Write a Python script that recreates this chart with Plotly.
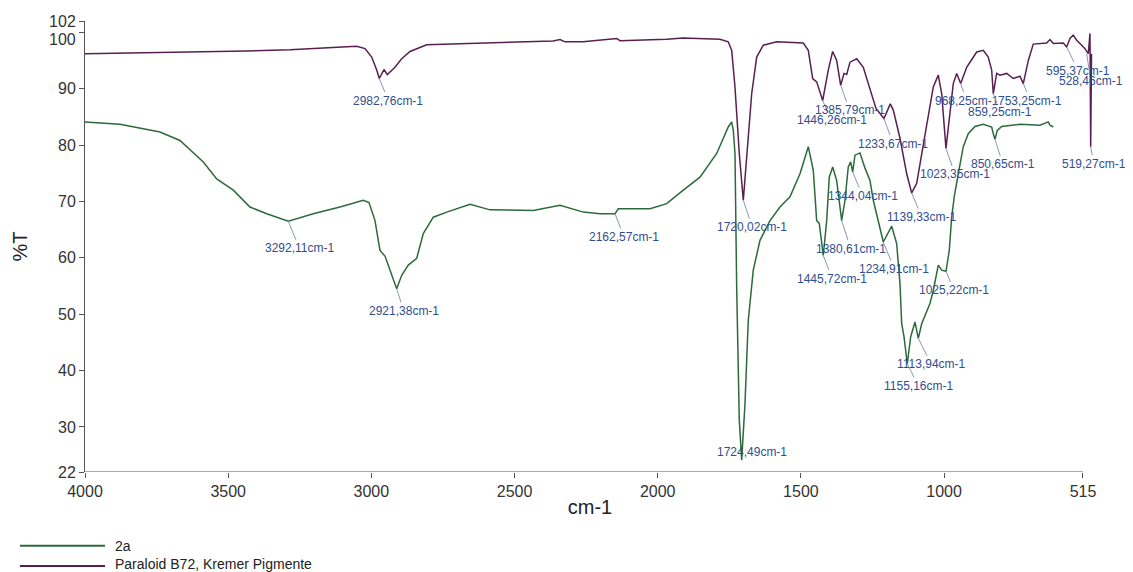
import plotly.graph_objects as go

# ---------------- data ----------------
purple_name = "Paraloid B72, Kremer Pigmente"
purple_wn = [4000, 3877.8, 3738.1, 3598.4, 3435.3, 3284.1, 3144.5, 3051.2, 3022.2, 2998.8,
             2981.4, 2972.3, 2962.9, 2955.9, 2944.4, 2917.5, 2894.1, 2865.1, 2806.8, 2645.1,
             2365.7, 2341.3, 2323.8, 2261.0, 2143.3, 2131.8, 1968.7, 1911.8, 1782.6, 1753.6,
             1741.7, 1730.2, 1715.2, 1701.2, 1687.3, 1671.9, 1654.4, 1631.4, 1584.6, 1491.7,
             1474.2, 1458.9, 1444.9, 1424.0, 1404.4, 1389.1, 1375.1, 1361.1, 1349.6, 1340.1,
             1328.6, 1305.2, 1282.2, 1258.8, 1237.8, 1209.9, 1187.9, 1177.4, 1154.0, 1130.6,
             1113.2, 1095.7, 1078.2, 1055.2, 1037.7, 1020.3, 1008.4, 993.4, 979.4, 967.9,
             956.0, 942.1, 921.1, 886.2, 863.1, 845.7, 833.8, 828.2, 816.4, 804.8,
             781.4, 758.4, 735.0, 723.4, 705.8, 688.5, 641.8, 630.2, 618.7, 583.8,
             571.9, 560.4, 548.9, 536.9, 525.5, 508.0, 496.5, 490.5, 488.1, 485.2]
purple_t = [96.2, 96.3, 96.4, 96.45, 96.7, 96.9, 97.3, 97.5, 97.1, 95.6,
            93.3, 91.8, 92.7, 93.4, 92.5, 93.8, 95.3, 96.6, 97.8, 98.0,
            98.45, 98.7, 98.3, 98.3, 98.9, 98.5, 98.75, 99.0, 98.75, 98.3,
            96.8, 90.3, 78.5, 70.2, 78.5, 89.1, 95.6, 97.7, 98.3, 98.1,
            96.8, 91.8, 91.2, 87.9, 93.3, 96.6, 95.0, 90.6, 92.7, 92.5,
            94.7, 95.3, 93.8, 89.7, 86.5, 84.7, 87.3, 86.2, 81.2, 74.9,
            71.5, 73.2, 78.5, 85.6, 90.3, 92.4, 89.1, 79.4, 85.6, 90.9,
            92.7, 90.9, 93.8, 96.5, 96.8, 95.6, 93.3, 89.1, 92.7, 92.4,
            92.7, 91.8, 92.2, 90.9, 95.0, 97.9, 98.1, 98.7, 98.0, 98.1,
            97.4, 98.9, 99.5, 98.6, 98.0, 97.1, 96.2, 99.8, 79.7, 96.2]

green_name = "2a"
green_wn = [4000, 3877.8, 3738.1, 3668.3, 3586.9, 3540.1, 3482.1, 3423.8, 3365.5, 3290.1,
            3202.8, 3109.5, 3028.2, 3008.3, 2987.3, 2969.9, 2952.4, 2929.0, 2911.6, 2894.1,
            2871.1, 2841.7, 2818.7, 2783.7, 2736.9, 2655.6, 2585.7, 2434.5, 2341.3, 2259.9,
            2201.6, 2149.2, 2137.7, 2027.0, 1968.7, 1910.7, 1852.4, 1794.1, 1753.6, 1741.7,
            1736.1, 1730.2, 1724.3, 1715.2, 1706.8, 1695.3, 1683.8, 1666.3, 1642.9, 1607.9,
            1573.1, 1538.1, 1503.2, 1474.2, 1456.8, 1444.9, 1435.8, 1421.9, 1410.0, 1400.9,
            1389.1, 1375.1, 1357.6, 1346.1, 1334.6, 1326.3, 1319.2, 1311.2, 1293.7, 1276.2,
            1258.8, 1247.2, 1223.9, 1212.3, 1183.0, 1165.5, 1154.0, 1148.1, 1140.0, 1128.5,
            1116.6, 1101.5, 1090.0, 1078.2, 1049.3, 1037.7, 1020.3, 1008.4, 993.4, 981.9,
            973.5, 963.7, 950.4, 933.0, 915.5, 892.1, 863.1, 833.8, 828.2, 822.3,
            814.3, 798.9, 735.0, 665.1, 636.1, 630.2, 618.7]
green_t = [84.1, 83.7, 82.3, 80.8, 77.0, 74.0, 72.0, 69.0, 67.8, 66.5,
           67.8, 69.0, 70.2, 69.8, 66.6, 61.3, 60.3, 56.9, 54.5, 56.9,
           58.7, 59.9, 64.3, 67.2, 68.1, 69.5, 68.5, 68.4, 69.3, 68.1,
           67.8, 67.8, 68.7, 68.7, 69.6, 72.0, 74.3, 78.5, 83.2, 84.1,
           82.6, 78.5, 54.8, 31.2, 24.1, 34.1, 48.9, 57.8, 63.1, 66.6,
           69.0, 70.8, 74.9, 79.7, 75.5, 66.6, 66.1, 60.4, 66.6, 74.3,
           76.1, 73.7, 66.6, 70.2, 76.1, 77.0, 75.2, 78.2, 78.6, 75.9,
           73.7, 70.2, 65.5, 62.8, 65.6, 62.5, 55.4, 48.3, 46.0, 41.2,
           46.0, 48.6, 45.7, 48.3, 51.9, 54.2, 58.7, 57.8, 57.6, 61.3,
           67.2, 71.1, 74.9, 79.7, 82.0, 83.3, 83.7, 83.2, 82.0, 81.0,
           82.6, 83.3, 83.7, 83.5, 84.1, 83.5, 83.2]

x_tick_vals = [4000, 3500, 3000, 2500, 2000, 1500, 1000, 515]
y_tick_vals = [22, 30, 40, 50, 60, 70, 80, 90, 100, 102]

peak_labels = ["2982,76cm-1", "3292,11cm-1", "2921,38cm-1", "2162,57cm-1", "1720,02cm-1",
               "1724,49cm-1", "1446,26cm-1", "1385,79cm-1", "1233,67cm-1", "1139,33cm-1",
               "1023,35cm-1", "968,25cm-1", "753,25cm-1", "859,25cm-1", "595,37cm-1",
               "528,46cm-1", "519,27cm-1", "850,65cm-1", "1344,04cm-1", "1380,61cm-1",
               "1445,72cm-1", "1234,91cm-1", "1025,22cm-1", "1113,94cm-1", "1155,16cm-1"]
peak_wn = [2972.3, 3290.1, 2911.6, 2149.2, 1701.2,
           1706.8, 1424.0, 1361.1, 1209.9, 1113.2,
           993.4, 942.1, 723.4, 828.2, 570.9,
           501.9, 488.1, 822.3, 1319.2, 1357.6,
           1421.9, 1212.3, 993.4, 1090.0, 1128.5]
peak_t = [91.8, 66.5, 54.5, 67.8, 70.2,
          24.1, 87.9, 90.6, 84.7, 71.5,
          79.4, 90.9, 90.9, 89.1, 97.3,
          96.2, 79.7, 81.0, 75.2, 66.6,
          60.4, 62.8, 57.6, 45.7, 41.2]

# ---------------- styles ----------------
label_dx = [9, 11, 7, 9, 9, 10, 9, 9, 9, 10, 9, 6, 7, 7, 11, 4, 3, 8, 10, 9, 9, 11, 8, 13, 11]
label_dy = [22, 27, 22, 23, 27, -8, 20, 25, 25, 24, 26, 17, 17, 18, 23, 27, 17, 25, 24, 28, 23, 27, 19, 26, 22]

GREEN = "#2c6a3c"
PURPLE = "#5a1f4f"
LABEL_BLUE = "#2f4e8e"
LEADER = "#8797ba"
FONT = "Liberation Sans, Arial, sans-serif"

fig = go.Figure()
fig.add_trace(go.Scatter(x=purple_wn, y=purple_t, mode="lines", name=purple_name,
                         line=dict(color=PURPLE, width=1.5), showlegend=False))
fig.add_trace(go.Scatter(x=green_wn, y=green_t, mode="lines", name=green_name,
                         line=dict(color=GREEN, width=1.5), showlegend=False))

annotations = []
for txt, px, py, dx, dy in zip(peak_labels, peak_wn, peak_t, label_dx, label_dy):
    annotations.append(dict(x=px, y=py, xref="x", yref="y", text=txt,
                            showarrow=True, ax=dx, ay=dy, arrowhead=0, arrowwidth=1,
                            arrowcolor=LEADER, standoff=0,
                            font=dict(family=FONT, size=12, color=LABEL_BLUE)))

# shifted "100" tick label as in the original
annotations.append(dict(x=0, y=100, xref="paper", yref="y", text="100", showarrow=False,
                        xanchor="right", yanchor="middle", xshift=-7, yshift=-7,
                        font=dict(family=FONT, size=16, color="#333")))

# legend (drawn manually, long line samples)
legend_items = [(green_name, GREEN, -0.1634, -0.1634), (purple_name, PURPLE, -0.2084, -0.2029)]
shapes = []
for name, col, ly, ty in legend_items:
    shapes.append(dict(type="line", xref="paper", yref="paper", x0=-0.0644, x1=0.0198,
                       y0=ly, y1=ly, line=dict(color=col, width=2)))
    annotations.append(dict(x=0.0277, y=ty, xref="paper", yref="paper", text=name,
                            showarrow=False, xanchor="left", yanchor="middle",
                            font=dict(family=FONT, size=14, color="#222")))

# x axis baseline only up to 515
shapes.append(dict(type="line", xref="x", yref="y", x0=4000, x1=515, y0=22, y1=22,
                   line=dict(color="#555", width=1)))

y_tick_text = [str(v) if v != 100 else "" for v in y_tick_vals]

# the page body adds an 8px offset, so the figure is drawn 8px smaller with reduced left/top margins
fig.update_layout(
    width=1125, height=564,
    margin=dict(l=77, r=38, t=13, b=100),
    paper_bgcolor="white", plot_bgcolor="white",
    font=dict(family=FONT, color="#333"),
    annotations=annotations,
    shapes=shapes,
    xaxis=dict(range=[4000, 473], tickvals=x_tick_vals, ticktext=[str(v) for v in x_tick_vals],
               showgrid=False, zeroline=False, showline=False, ticks="outside", ticklen=5,
               tickcolor="#555", tickfont=dict(size=16, color="#333"), automargin=False,
               title=dict(text="cm-1", font=dict(size=20, color="#222"), standoff=0)),
    yaxis=dict(range=[22, 102], tickvals=y_tick_vals, ticktext=y_tick_text,
               showgrid=False, zeroline=False, showline=True, linecolor="#555", linewidth=1,
               ticks="outside", ticklen=5, tickcolor="#555",
               tickfont=dict(size=16, color="#333"), automargin=False,
               title=dict(text="%T", font=dict(size=20, color="#222"), standoff=16)),
)

fig.write_html("out.html")
